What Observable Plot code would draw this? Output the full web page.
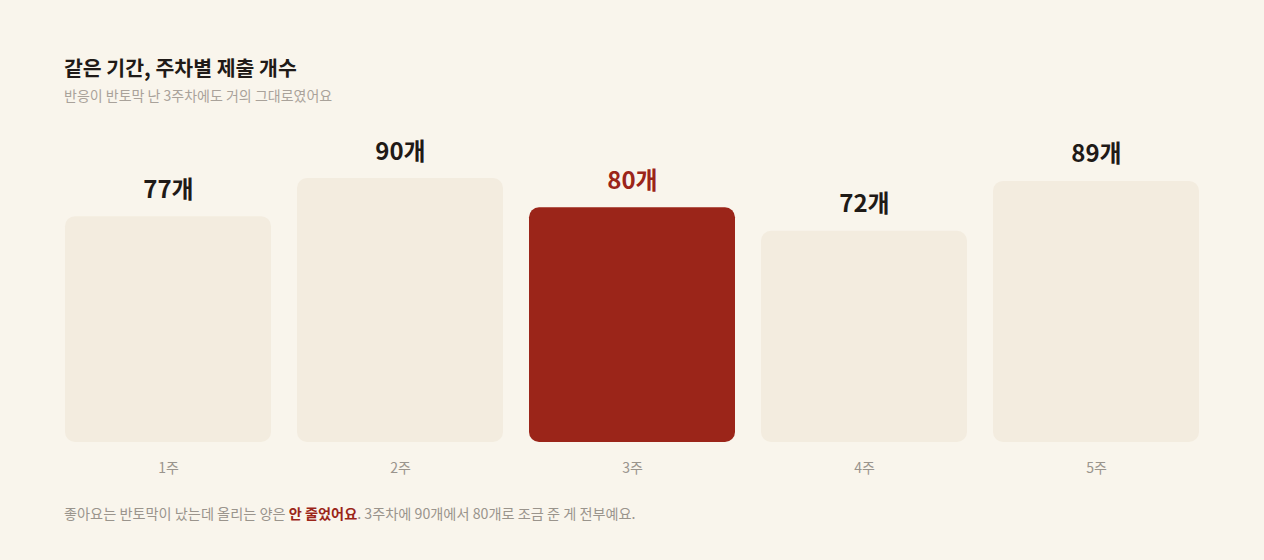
<!DOCTYPE html>
<html>
<head>
<meta charset="utf-8">
<script src="https://cdn.jsdelivr.net/npm/d3@7"></script>
<script src="https://cdn.jsdelivr.net/npm/@observablehq/plot@0.6"></script>
<style>
  html, body { margin: 0; padding: 0; background: #f9f5ec; }
  body { width: 1264px; height: 560px; position: relative; overflow: hidden;
         font-family: "Noto Sans CJK KR", "Noto Sans", sans-serif; }
  #title { position: absolute; left: 64px; top: 52px; font-size: 20.5px; font-weight: 700; color: #1f1a17; }
  #subtitle { position: absolute; left: 64px; top: 85px; font-size: 14px; color: #a9a29a; }
  #chart { position: absolute; left: 0; top: 120px; }
  #caption { position: absolute; left: 64px; top: 503px; font-size: 14.2px; color: #9a948c; }
  #caption b { color: #9b2519; font-weight: 700; }
</style>
</head>
<body>
<div id="title">같은 기간, 주차별 제출 개수</div>
<div id="subtitle">반응이 반토막 난 3주차에도 거의 그대로였어요</div>
<div id="chart"></div>
<div id="caption">좋아요는 반토막이 났는데 올리는 양은 <b>안 줄었어요</b>. 3주차에 90개에서 80개로 조금 준 게 전부예요.</div>
<script>
const weeks = ["1주", "2주", "3주", "4주", "5주"];
const counts = [77, 90, 80, 72, 89];
const highlight = "3주";

const data = weeks.map((w, i) => ({week: w, count: counts[i], hi: w === highlight}));

const chart = Plot.plot({
  width: 1264,
  height: 370,
  marginLeft: 64,
  marginRight: 64,
  marginTop: 58,
  marginBottom: 48,
  style: {background: "transparent", fontFamily: "'Noto Sans CJK KR', sans-serif"},
  x: {domain: weeks, paddingInner: 0.114, paddingOuter: 0, label: null},
  y: {domain: [0, 90], axis: null},
  marks: [
    Plot.barY(data, {x: "week", y: "count", rx: 10, fill: d => d.hi ? "#9b2519" : "#f3ecdf"}),
    Plot.text(data, {x: "week", y: "count", text: d => d.count + "개", lineAnchor: "bottom", dy: -19,
      fontSize: 24, fontWeight: 700, fill: d => d.hi ? "#9b2519" : "#1f1a17"}),
    Plot.axisX({tickSize: 0, tickPadding: 21, fontSize: 14, color: "#9a948c", label: null})
  ]
});
document.getElementById("chart").appendChild(chart);
</script>
</body>
</html>
